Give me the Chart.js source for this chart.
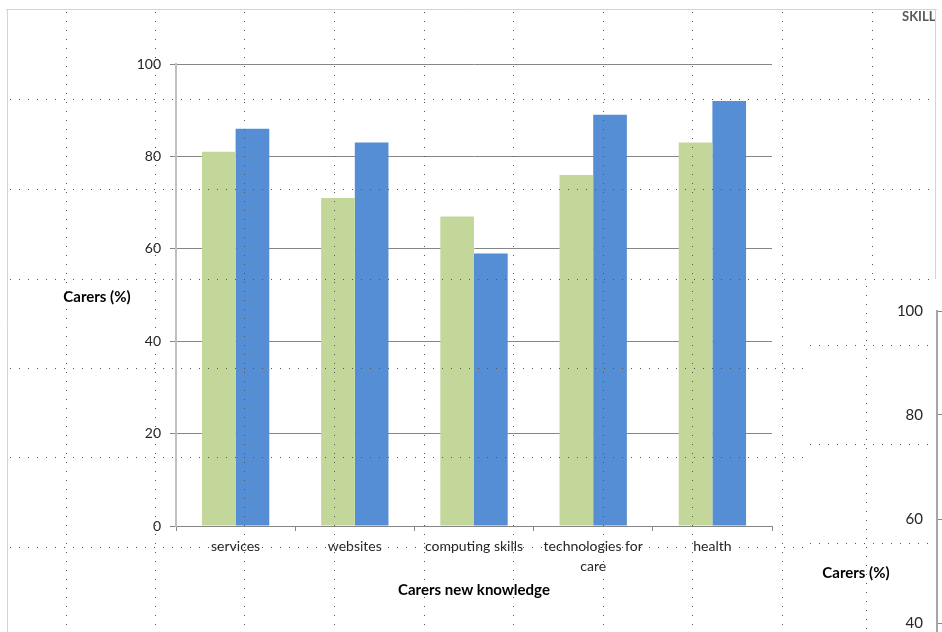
<!DOCTYPE html>
<html>
<head>
<meta charset="utf-8">
<script src="https://cdn.jsdelivr.net/npm/chart.js@4/dist/chart.umd.min.js"></script>
<style>
  html, body { margin: 0; padding: 0; background: #fff; overflow: hidden; }
  #wrap { position: relative; width: 942px; height: 632px; overflow: hidden; }
  #mainChart { position: absolute; left: 0; top: 0; }
  #sideChart { position: absolute; left: 805px; top: 281px; }
</style>
</head>
<body>
<div id="wrap">
  <canvas id="mainChart" width="942" height="632"></canvas>
  <canvas id="sideChart" width="300" height="600"></canvas>
</div>
<script>
// ========== DATA ==========
const categories = ['services', 'websites', 'computing skills', ['technologies for', 'care'], 'health'];
const seriesGreen = [81, 71, 67, 76, 83];
const seriesBlue = [86, 83, 59, 89, 92];
const yTicks = [0, 20, 40, 60, 80, 100];
const sideTicks = [40, 60, 80, 100];

const FONT = 'Lato, "Open Sans", sans-serif';

// ========== HELPERS ==========
function dotLine(ctx, x1, y1, x2, y2) {
    ctx.beginPath();
    ctx.moveTo(x1, y1);
    ctx.lineTo(x2, y2);
    ctx.stroke();
}

function setDots(ctx) {
    ctx.strokeStyle = '#555';
    ctx.lineWidth = 1;
    ctx.setLineDash([1, 8]);
}

// sheet gridlines + frame + axis titles for the main chart
const mainDecor = {
    id: 'mainDecor',
    beforeDraw(chart) {
        const ctx = chart.ctx;
        ctx.save();
        ctx.fillStyle = '#fff';
        ctx.fillRect(0, 0, chart.width, chart.height);
        ctx.restore();
    },
    afterDraw(chart) {
        const ctx = chart.ctx;
        const area = chart.chartArea;
        ctx.save();

        // chart frame
        ctx.strokeStyle = '#d4d4d4';
        ctx.lineWidth = 1;
        dotLine(ctx, 6, 9.5, 937, 9.5);
        dotLine(ctx, 7.5, 9, 7.5, 632);
        dotLine(ctx, 935.5, 9, 935.5, 279);

        // sheet dotted cells
        setDots(ctx);
        [99, 189, 279].forEach(y => dotLine(ctx, 10, y + 0.5, 936, y + 0.5));
        [368, 457, 547].forEach(y => dotLine(ctx, 10, y + 0.5, 804, y + 0.5));
        [66, 155, 244, 334, 424, 513, 603, 692, 782].forEach(x => dotLine(ctx, x + 0.5, 12, x + 0.5, 632));
        dotLine(ctx, 872.5, 12, 872.5, 279);
        ctx.setLineDash([]);

        // axis titles
        ctx.fillStyle = '#000';
        ctx.font = 'bold 15px ' + FONT;
        ctx.textAlign = 'center';
        ctx.textBaseline = 'middle';
        ctx.fillText('Carers (%)', 97, (area.top + area.bottom) / 2 + 2);
        ctx.fillText('Carers new knowledge', (area.left + area.right) / 2, 590);

        // clipped title of the neighbouring chart
        ctx.beginPath();
        ctx.rect(880, 10, 55, 20);
        ctx.clip();
        ctx.fillStyle = '#595959';
        ctx.font = 'bold 13px ' + FONT;
        ctx.textAlign = 'left';
        ctx.fillText('SKILLS', 902, 17);
        ctx.restore();
    }
};

const sideDecor = {
    id: 'sideDecor',
    beforeDraw(chart) {
        const ctx = chart.ctx;
        ctx.save();
        ctx.fillStyle = '#fff';
        ctx.fillRect(0, 0, chart.width, chart.height);
        setDots(ctx);
        [64, 163, 262].forEach(y => dotLine(ctx, 5, y + 0.5, 300, y + 0.5));
        dotLine(ctx, 61.5, 5, 61.5, 600);
        ctx.setLineDash([]);
        ctx.restore();
    },
    afterDraw(chart) {
        const ctx = chart.ctx;
        const area = chart.chartArea;
        ctx.save();
        ctx.fillStyle = '#000';
        ctx.font = 'bold 15px ' + FONT;
        ctx.textAlign = 'center';
        ctx.textBaseline = 'middle';
        ctx.fillText('Carers (%)', 51, (area.top + area.bottom) / 2 + 2);
        ctx.restore();
    }
};

// ========== MAIN CHART ==========
new Chart(document.getElementById('mainChart'), {
    type: 'bar',
    data: {
        labels: categories,
        datasets: [
            { label: 'green', data: seriesGreen, backgroundColor: '#c4d79b', barPercentage: 1, categoryPercentage: 0.565 },
            { label: 'blue', data: seriesBlue, backgroundColor: '#558ed5', barPercentage: 1, categoryPercentage: 0.565 }
        ]
    },
    options: {
        responsive: false,
        animation: false,
        layout: { padding: { top: 64, right: 170, left: 0, bottom: 0 } },
        plugins: { legend: { display: false }, tooltip: { enabled: false } },
        scales: {
            x: {
                afterFit: s => { s.height = 106; },
                grid: { display: true, drawOnChartArea: false, tickLength: 5, color: '#868686', offset: true },
                border: { color: '#868686', width: 1 },
                ticks: { color: '#262626', font: { family: FONT, size: 14, lineHeight: 1.45 }, padding: 5, maxRotation: 0, autoSkip: false }
            },
            y: {
                min: 0,
                max: 100,
                afterFit: s => { s.width = 176; },
                afterBuildTicks: s => { s.ticks = yTicks.map(v => ({ value: v })); },
                grid: { color: '#868686', lineWidth: 1, tickLength: 6 },
                border: { color: '#c0c0c0', width: 2 },
                ticks: { color: '#262626', font: { family: FONT, size: 14 }, padding: 9 }
            }
        }
    },
    plugins: [mainDecor]
});

// ========== SIDE CHART (cut off at the right edge) ==========
new Chart(document.getElementById('sideChart'), {
    type: 'bar',
    data: { labels: [], datasets: [] },
    options: {
        responsive: false,
        animation: false,
        layout: { padding: { top: 30, right: 20, left: 0, bottom: 50 } },
        plugins: { legend: { display: false }, tooltip: { enabled: false } },
        scales: {
            x: { display: false },
            y: {
                min: 0,
                max: 100,
                afterFit: s => { s.width = 132; },
                afterBuildTicks: s => { s.ticks = sideTicks.map(v => ({ value: v })); },
                grid: { color: '#868686', lineWidth: 1, drawTicks: false },
                border: { color: '#a6a6a6', width: 2 },
                ticks: { color: '#262626', font: { family: FONT, size: 15 }, padding: 14 }
            }
        }
    },
    plugins: [sideDecor]
});
</script>
</body>
</html>
